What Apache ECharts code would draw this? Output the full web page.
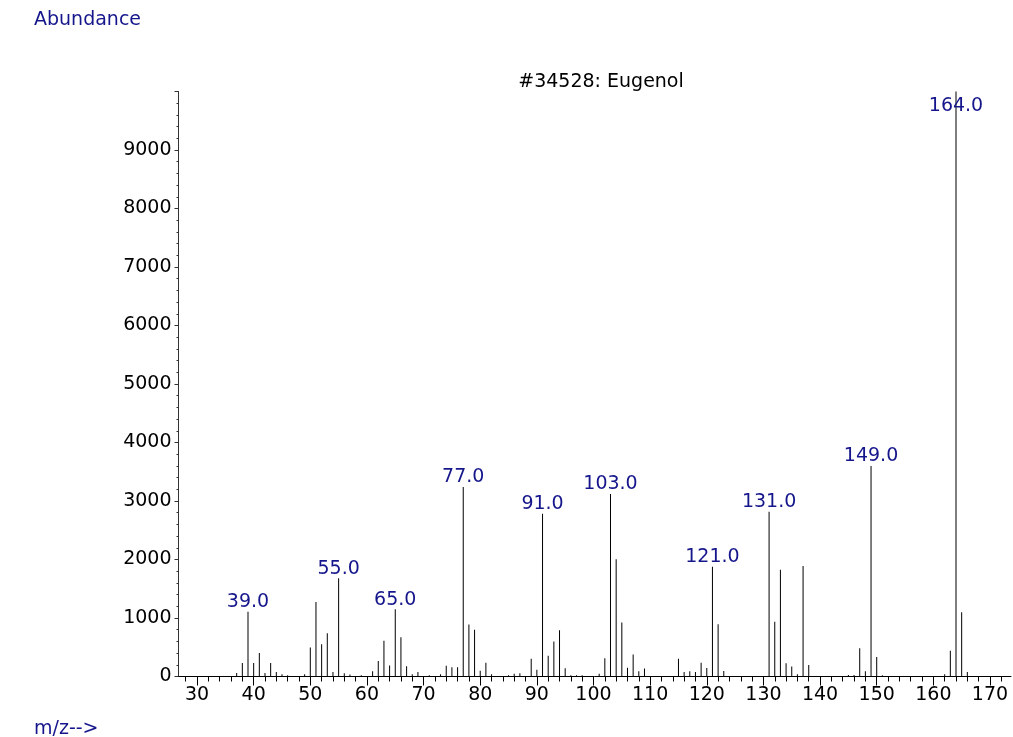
<!DOCTYPE html>
<html>
<head>
<meta charset="utf-8">
<script src="https://cdn.jsdelivr.net/npm/echarts@6/dist/echarts.min.js"></script>
<style>
	html, body { margin: 0; padding: 0; background: #fff; }
	#chart { width: 1013px; height: 737px; }
</style>
</head>
<body>
<div id="chart"></div>
<script>
	// m/z values and their abundances
	const massList = [37, 38, 39, 40, 41, 42, 43, 44, 45, 46, 49, 50, 51, 52, 53, 54, 55, 56, 57, 59,
		61, 62, 63, 64, 65, 66, 67, 68, 69, 71, 73, 74, 75, 76, 77, 78, 79, 80, 81, 82,
		85, 86, 87, 89, 90, 91, 92, 93, 94, 95, 96, 97, 98, 101, 102, 103, 104, 105, 106, 107,
		108, 109, 115, 116, 117, 118, 119, 120, 121, 122, 123, 131, 132, 133, 134, 135, 136, 137, 138, 145,
		146, 147, 148, 149, 150, 151, 162, 163, 164, 165, 166]
	const abundanceList = [60, 230, 1105, 230, 400, 60, 230, 75, 40, 20, 40, 495, 1275, 550, 740, 75, 1680, 55, 35, 20,
		90, 265, 610, 190, 1150, 670, 175, 40, 75, 20, 40, 185, 160, 160, 3240, 890, 800, 100, 235, 40,
		20, 45, 55, 305, 115, 2780, 355, 600, 790, 140, 20, 20, 20, 45, 310, 3120, 2005, 925, 150, 375,
		90, 135, 305, 75, 90, 75, 235, 145, 1878, 895, 95, 2815, 935, 1825, 225, 170, 40, 1890, 195, 25,
		25, 485, 90, 3600, 335, 20, 40, 440, 10000, 1100, 75]
	// peaks that get a label
	const labeledPeaks = [39, 55, 65, 77, 91, 103, 121, 131, 149, 164]
	const majorTicks = [30, 40, 50, 60, 70, 80, 90, 100, 110, 120, 130, 140, 150, 160, 170]
	const minorTicks = [28, 30, 32, 34, 36, 38, 40, 42, 44, 46, 48, 50, 52, 54, 56, 58, 60, 62, 64, 66, 68, 70,
		72, 74, 76, 78, 80, 82, 84, 86, 88, 90, 92, 94, 96, 98, 100, 102, 104, 106, 108, 110, 112, 114,
		116, 118, 120, 122, 124, 126, 128, 130, 132, 134, 136, 138, 140, 142, 144, 146, 148, 150, 152,
		154, 156, 158, 160, 162, 164, 166, 168, 170, 172]

	const font = 'DejaVu Sans'
	const navy = '#16168c'

	let chart = echarts.init(document.getElementById('chart'))

	let seriesData = massList.map((m, i) => {
		let item = { value: [m, abundanceList[i]] }
		if (labeledPeaks.includes(m)) {
			item.label = { show: true }
			// the base peak label sits across the line
			if (m === 164) item.label.offset = [0, 24]
		}
		return item
	})

	let option = {
		animation: false,
		grid: {
			left: 178.5,
			right: 2,
			top: 91.5,
			bottom: 60.5
		},
		graphic: [
			{ type: 'text', left: 34, top: 11, style: { text: 'Abundance', fill: navy, font: '19px "' + font + '"' } },
			{ type: 'text', left: 34, top: 720, style: { text: 'm/z-->', fill: navy, font: '19px "' + font + '"' } },
			{ type: 'text', x: 601, y: 82, style: { text: '#34528: Eugenol', fill: '#000', font: '19px "' + font + '"', align: 'center', verticalAlign: 'middle' } }
		],
		xAxis: [{
			type: 'value',
			min: 26.73,
			max: 173.71,
			axisLine: { show: true, lineStyle: { color: '#000', width: 1 } },
			axisTick: { show: true, customValues: minorTicks, length: 5, lineStyle: { color: '#000' } },
			axisLabel: { customValues: majorTicks, color: '#000', fontFamily: font, fontSize: 19, margin: 9 },
			splitLine: { show: false }
		}, {
			type: 'value',
			position: 'bottom',
			min: 26.73,
			max: 173.71,
			axisLine: { show: false },
			axisTick: { show: true, customValues: majorTicks, length: 9, lineStyle: { color: '#000' } },
			axisLabel: { show: false },
			splitLine: { show: false }
		}],
		yAxis: {
			type: 'value',
			min: 0,
			max: 10000,
			interval: 1000,
			axisLine: { show: true, lineStyle: { color: '#333', width: 1 } },
			axisTick: { show: true, length: 4, lineStyle: { color: '#333' } },
			minorTick: { show: true, splitNumber: 5, length: 2, lineStyle: { color: '#333' } },
			axisLabel: {
				color: '#000',
				fontFamily: font,
				fontSize: 19,
				margin: 7,
				showMaxLabel: false,
				formatter: v => (v >= 10000 ? '' : String(v))
			},
			splitLine: { show: false }
		},
		series: [{
			type: 'bar',
			xAxisIndex: 0,
			data: seriesData,
			barWidth: 1,
			itemStyle: { color: '#000' },
			label: {
				show: false,
				position: 'top',
				distance: 0,
				color: navy,
				fontFamily: font,
				fontSize: 19,
				formatter: p => p.value[0].toFixed(1)
			}
		}]
	}
	chart.clear()
	chart.setOption(option)
</script>
</body>
</html>
